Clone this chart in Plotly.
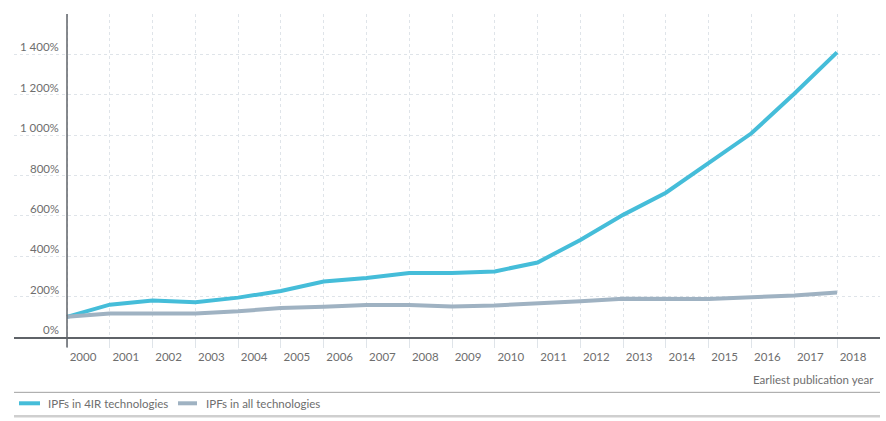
import plotly.graph_objects as go

years = list(range(2000, 2019))
ipf_4ir = [100, 160, 181, 172, 195, 228, 275, 292, 317, 317, 325, 369, 481, 605, 715, 860, 1009, 1205, 1410]
ipf_all = [100, 116, 116, 117, 127, 144, 150, 159, 159, 151, 156, 164, 177, 189, 187, 188, 197, 206, 221]
y_ticks = [0, 200, 400, 600, 800, 1000, 1200, 1400, 1600]
y_labels = ["0%", "200%", "400%", "600%", "800%", "1 000%", "1 200%", "1 400%", ""]
series_names = ["IPFs in 4IR technologies", "IPFs in all technologies"]
series_colors = ["#45bdd9", "#9fb2c2"]
x_title = "Earliest publication year"

FONT = "Lato"
TXT = "#6e6e6e"
GRID = "#dfe4e9"

W, H = 886, 421
ML, MR, MT, MB = 14, 6, 13.5, 83.5
PW, PH = W - ML - MR, H - MT - MB


def px_x(p):
    return (p - ML) / PW


def px_y(p):
    return (H - MB - p) / PH


fig = go.Figure()
for vals, name, col in zip([ipf_4ir, ipf_all], series_names, series_colors):
    fig.add_trace(go.Scatter(x=years, y=vals, mode="lines", name=name,
                             line=dict(color=col, width=4), showlegend=False))

# y-axis tick labels as annotations above the gridlines
for v, t in zip(y_ticks, y_labels):
    if t:
        fig.add_annotation(x=years[0], xref="x", y=v, yref="y", text=t, showarrow=False,
                           xanchor="right", yanchor="bottom", xshift=-6, yshift=-1,
                           font=dict(family=FONT, size=11.5, color=TXT))

fig.add_annotation(x=1, xref="paper", y=px_y(380), yref="paper", text=x_title, showarrow=False,
                   xanchor="right", yanchor="middle", xshift=-4,
                   font=dict(family=FONT, size=11.5, color=TXT))

# vertical axis line at the first year
fig.add_shape(type="line", xref="x", yref="paper", x0=years[0], x1=years[0], y0=px_y(348), y1=1,
              line=dict(color="#5f6368", width=1.5))
# legend separators
fig.add_shape(type="line", xref="paper", yref="paper", x0=0, x1=1, y0=px_y(393), y1=px_y(393),
              line=dict(color="#a0a0a0", width=1))
fig.add_shape(type="line", xref="paper", yref="paper", x0=0, x1=1, y0=px_y(417), y1=px_y(417),
              line=dict(color="#cfcfcf", width=2.5))

# legend entries
leg_sym = [(19, 40), (178, 197)]
leg_txt = [46, 204]
for (a, b), tx, name, col in zip(leg_sym, leg_txt, series_names, series_colors):
    fig.add_shape(type="line", xref="paper", yref="paper", x0=px_x(a), x1=px_x(b),
                  y0=px_y(404), y1=px_y(404), line=dict(color=col, width=4))
    fig.add_annotation(x=px_x(tx), xref="paper", y=px_y(404), yref="paper", text=name,
                       showarrow=False, xanchor="left", yanchor="middle",
                       font=dict(family=FONT, size=11.5, color=TXT))

fig.update_layout(
    width=W, height=H,
    margin=dict(l=ML, r=MR, t=MT, b=MB),
    paper_bgcolor="white", plot_bgcolor="white",
    font=dict(family=FONT, size=11.5, color=TXT),
    showlegend=False,
    xaxis=dict(range=[1998.761, 2019.005], tickmode="array", tickvals=years,
               ticktext=[str(y) for y in years], ticklabelshift=16,
               showgrid=True, gridcolor=GRID, griddash="dot", gridwidth=1,
               ticks="outside", ticklen=9, tickcolor=GRID, tickwidth=1,
               showline=True, linecolor="#5f6368", linewidth=1.5, zeroline=False,
               tickfont=dict(family=FONT, size=11.5, color=TXT), fixedrange=True),
    yaxis=dict(range=[0, 1600], tickmode="array", tickvals=y_ticks, showticklabels=False,
               showgrid=True, gridcolor=GRID, griddash="dot", gridwidth=1,
               ticks="", showline=False, zeroline=False, fixedrange=True),
)

fig.write_html("out.html", config={"displayModeBar": False, "staticPlot": True},
               post_script="document.body.style.margin='0';document.body.style.overflow='hidden';")
